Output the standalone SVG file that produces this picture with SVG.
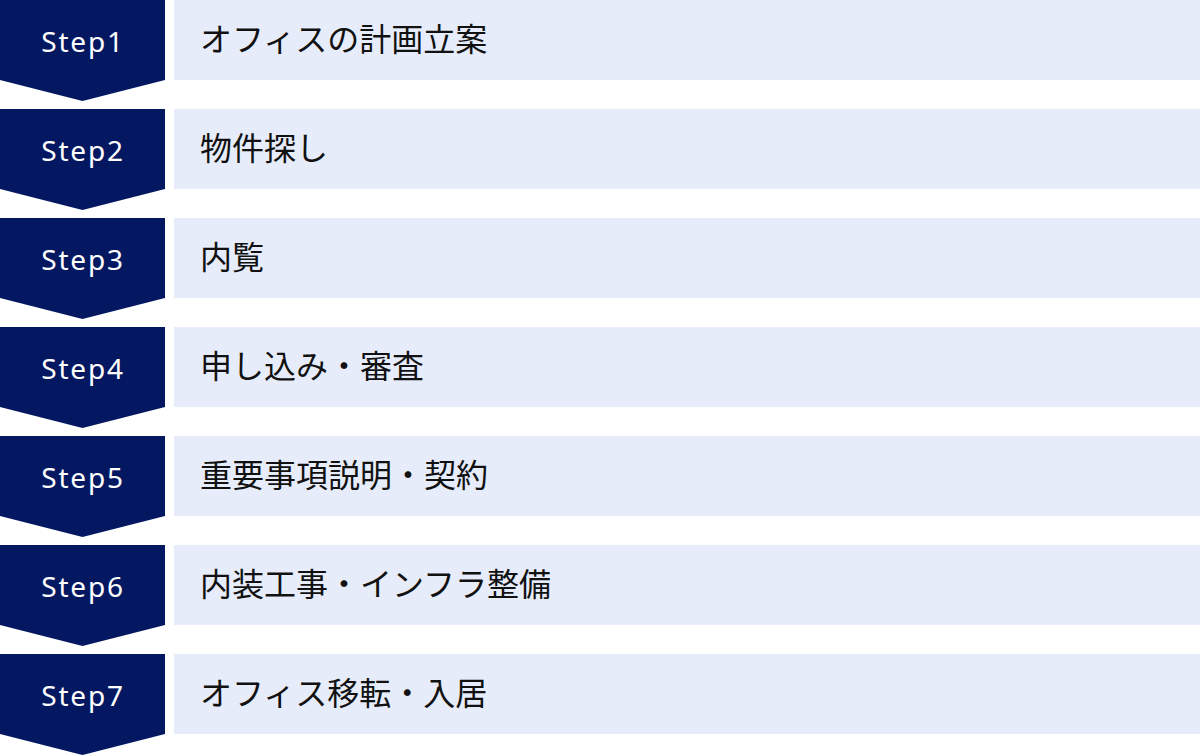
<svg xmlns="http://www.w3.org/2000/svg" width="1200" height="756" viewBox="0 0 1200 756">
<style>
.chev{fill:#041862}
.box{fill:#E6ECF9}
.step{font-family:"Noto Sans","Noto Sans CJK JP",sans-serif;font-size:28px;font-weight:400;fill:#ffffff;letter-spacing:1.8px;text-anchor:middle}
.lbl{font-family:"Noto Sans CJK JP","Noto Sans",sans-serif;font-size:32px;fill:#111111}
</style>
<defs>
<path id="chev" d="M0 0H165V80L82.5 101L0 80Z"/>
</defs>
<rect width="1200" height="756" fill="#ffffff"/>
<g id="step1" transform="translate(0,0)">
<use href="#chev" class="chev"/><rect class="box" x="174" y="0" width="1026" height="80"/>
<text class="step" x="83" y="52">Step1</text><text class="lbl" x="200" y="51">オフィスの計画立案</text>
</g>
<g id="step2" transform="translate(0,109)">
<use href="#chev" class="chev"/><rect class="box" x="174" y="0" width="1026" height="80"/>
<text class="step" x="83" y="52">Step2</text><text class="lbl" x="200" y="51">物件探し</text>
</g>
<g id="step3" transform="translate(0,218)">
<use href="#chev" class="chev"/><rect class="box" x="174" y="0" width="1026" height="80"/>
<text class="step" x="83" y="52">Step3</text><text class="lbl" x="200" y="51">内覧</text>
</g>
<g id="step4" transform="translate(0,327)">
<use href="#chev" class="chev"/><rect class="box" x="174" y="0" width="1026" height="80"/>
<text class="step" x="83" y="52">Step4</text><text class="lbl" x="200" y="51">申し込み・審査</text>
</g>
<g id="step5" transform="translate(0,436)">
<use href="#chev" class="chev"/><rect class="box" x="174" y="0" width="1026" height="80"/>
<text class="step" x="83" y="52">Step5</text><text class="lbl" x="200" y="51">重要事項説明・契約</text>
</g>
<g id="step6" transform="translate(0,545)">
<use href="#chev" class="chev"/><rect class="box" x="174" y="0" width="1026" height="80"/>
<text class="step" x="83" y="52">Step6</text><text class="lbl" x="200" y="51">内装工事・インフラ整備</text>
</g>
<g id="step7" transform="translate(0,654)">
<use href="#chev" class="chev"/><rect class="box" x="174" y="0" width="1026" height="80"/>
<text class="step" x="83" y="52">Step7</text><text class="lbl" x="200" y="51">オフィス移転・入居</text>
</g>
<g id="connectors"/>
</svg>
